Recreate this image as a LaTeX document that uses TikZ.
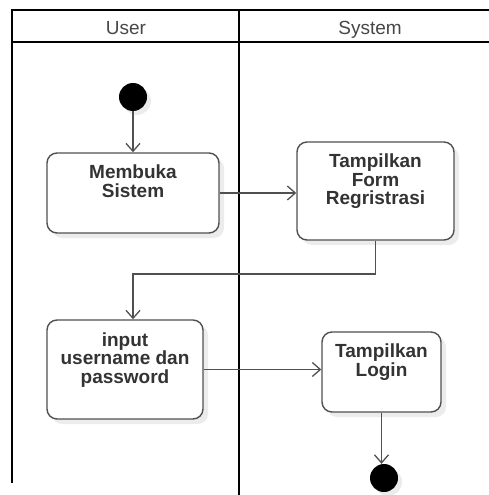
\documentclass[tikz,border=0pt]{standalone}
\usepackage{fontspec}
\setmainfont{Liberation Sans}
\usepackage{tikz}
\usetikzlibrary{arrows.meta, shadows, calc}
\definecolor{bordo}{HTML}{505050}
\definecolor{testogrigio}{HTML}{333333}
\tikzset{
    corsia/.style = {line width = 2pt, black},
    attivita/.style = {draw = bordo, line width = 1.4pt, fill = white, rounded corners = 10pt,
        drop shadow = {shadow xshift = 5pt, shadow yshift = -5pt, opacity = 0.15}},
    testo/.style = {anchor = north, align = center, inner sep = 0pt, text = testogrigio,
        font = \fontsize{19}{18.6}\selectfont\bfseries},
    intestazione/.style = {anchor = base, inner sep = 0pt, text = testogrigio!90,
        font = \fontsize{19}{22}\selectfont},
    pallino/.style = {circle, fill = black, minimum size = 28pt, inner sep = 0pt,
        drop shadow = {shadow xshift = 4pt, shadow yshift = -4pt, opacity = 0.15}},
    freccia/.style = {draw = bordo, line width = 1.3pt, -{Straight Barb[length = 8pt, width = 14pt]}}
}

\begin{document}
\begin{tikzpicture}[x = 1pt, y = -1pt]
    \useasboundingbox (0,0) rectangle (489,495);
    % Corsie
    \draw[corsia] (489,10.5) -- (12,10.5) -- (12,483);
    \draw[corsia] (12,42) -- (489,42);
    \draw[corsia] (239,10.5) -- (239,495);
    \node[intestazione] (user) at (126,34.5) {User};
    \node[intestazione] (system) at (370,34.5) {System};
    % Attivita
    \node[pallino] (inizio) at (133,97) {};
    \node[attivita, minimum width = 172pt, minimum height = 80pt] (membuka) at (133,193) {};
    \node[testo] (tMembuka) at ([yshift = -12.5pt]membuka.north) {Membuka\\Sistem};
    \node[attivita, minimum width = 157pt, minimum height = 98pt] (form) at (375.5,191) {};
    \node[testo] (tForm) at ([yshift = -12.5pt]form.north) {Tampilkan\\Form\\Regristrasi};
    \node[attivita, minimum width = 156pt, minimum height = 99pt] (input) at (125,369.5) {};
    \node[testo] (tInput) at ([yshift = -13pt]input.north) {input\\username dan\\password};
    \node[attivita, minimum width = 119pt, minimum height = 80pt] (login) at (381.5,372) {};
    \node[testo] (tLogin) at ([yshift = -12.5pt]login.north) {Tampilkan\\Login};
    \node[pallino] (fine) at (384,478) {};
    % Frecce
    \coordinate (gomito) at (133,274);
    \draw[freccia] (inizio.south) -- (inizio.south |- membuka.north);
    \draw[freccia] (membuka.east) -- (membuka.east -| form.west);
    \draw[freccia] (form.south) |- (gomito) -- (gomito |- input.north);
    \draw[freccia] (input.east) -- (input.east -| login.west);
    \draw[freccia] (login.south) -- (login.south |- fine.north);
\end{tikzpicture}
\end{document}
